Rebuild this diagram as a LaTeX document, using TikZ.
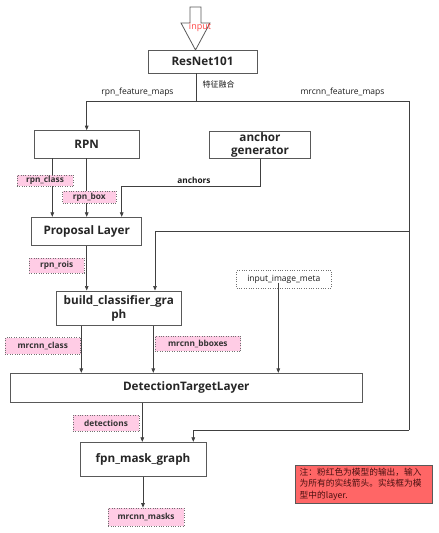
\documentclass[tikz,border=0pt]{standalone}
\usepackage{fontspec}
\setmainfont{Open Sans}
\newfontfamily\cjk{Noto Sans CJK SC}
\usetikzlibrary{arrows.meta,calc}
\definecolor{linec}{HTML}{404040}
\definecolor{boxc}{HTML}{595959}
\definecolor{dotc}{HTML}{707070}
\definecolor{pinkc}{HTML}{FFCCE5}
\definecolor{notec}{HTML}{FF6666}
\definecolor{notet}{HTML}{4A1010}
\definecolor{inred}{HTML}{FF4545}
\begin{document}
\begin{tikzpicture}[x=1pt,y=-1pt,
  layer/.style={draw=boxc, line width=0.9pt, fill=white, font=\fontsize{11.7}{13.5}\selectfont\bfseries, text=black!85, inner sep=0pt, align=center},
  outlbl/.style={draw=dotc, dotted, fill=pinkc, font=\fontsize{8.3}{9}\selectfont\bfseries, text=black!80, inner sep=0pt},
  inlbl/.style={draw=dotc, dotted, fill=white, font=\fontsize{8.5}{9}\selectfont, text=black!90, inner sep=0pt},
  lbl/.style={font=\fontsize{8.5}{9}\selectfont, text=black!90, inner sep=0pt},
  arr/.style={draw=linec, line width=0.7pt, -{Triangle[length=4.5pt,width=3.6pt]}},
  ln/.style={draw=linec, line width=0.7pt}]
\useasboundingbox (0,0) rectangle (439,533);

% input hollow arrow
\draw[boxc, line width=0.8pt, fill=white] (190,7) -- (201,7) -- (201,23) -- (210,23) -- (195.5,50) -- (181,23) -- (190,23) -- cycle;
\node[font=\fontsize{9}{10}\selectfont, text=inred, inner sep=0pt] (input) at (200,27) {input};

% layer boxes
\node[layer, minimum width=109pt, minimum height=23pt] (resnet) at (202.5,61.5) {ResNet101};
\node[layer, minimum width=105.3pt, minimum height=27.3pt] (rpn) at (86.7,144.3) {RPN};
\node[layer, minimum width=101.4pt, minimum height=27.3pt] (anchor) at (260,145) {anchor\\[-0.5pt]generator};
\node[layer, minimum width=110pt, minimum height=28pt] (proposal) at (86.7,231.3) {Proposal Layer};
\node[layer, minimum width=125.7pt, minimum height=34.7pt] (build) at (118.8,308.3) {build\_classifier\_gra\\ph};
\node[layer, minimum width=352.7pt, minimum height=28.7pt] (dtl) at (186.3,387.7) {DetectionTargetLayer};
\node[layer, minimum width=126pt, minimum height=34.4pt] (fpn) at (143,459.5) {fpn\_mask\_graph};

% junction coordinates
\coordinate (split) at (196.7,101);
\coordinate (rtop) at (409,101);
\coordinate (rmid) at (409,231.7);
\coordinate (rbot) at (409,430);
\coordinate (anc) at (121.7,186.7);

% connectors
\draw[ln] (split |- resnet.south) -- (split);
\draw[arr] (split) -| (rpn.north);
\draw[ln] (split) -- (rtop) -- (rbot);
\draw[arr] (rbot) -| ([xshift=50.3pt]fpn.north);
\draw[arr] (rmid) -| ([xshift=36.2pt]build.north);

\draw[arr] ([xshift=-34.4pt]rpn.south) -- ([xshift=-34.4pt]proposal.north);
\draw[arr] (rpn.south) -- (proposal.north);
\draw[arr] (anchor.south) |- (anc) -- (anc |- proposal.north);

\draw[arr] (proposal.south) -- (proposal.south |- build.north);

\node[inlbl, minimum width=94.3pt, minimum height=18.3pt] (meta) at (283.8,279) {input\_image\_meta};
\draw[arr] ([xshift=-5.5pt,yshift=5.7pt]meta.south) -- ([xshift=-5.5pt]meta.south |- dtl.north);

\draw[arr] ([xshift=-37.5pt]build.south) -- ([xshift=-37.5pt]build.south |- dtl.north);
\draw[arr] ([xshift=34.5pt]build.south) -- ([xshift=34.5pt]build.south |- dtl.north);

\draw[arr] ([xshift=-0.7pt]fpn.north |- dtl.south) -- ([xshift=-0.7pt]fpn.north);

\node[outlbl, minimum width=75.7pt, minimum height=18.3pt] (masks) at (146,517) {mrcnn\_masks};
\draw[arr] (fpn.south) -- (fpn.south |- masks.north);

% output labels
\node[outlbl, minimum width=56.6pt, minimum height=11pt] (rpnclass) at (45,180.5) {rpn\_class};
\node[outlbl, minimum width=53.3pt, minimum height=12.6pt] (rpnbox) at (89.3,197) {rpn\_box};
\node[outlbl, minimum width=55.3pt, minimum height=14.4pt] (rpnrois) at (56.7,265.5) {rpn\_rois};
\node[outlbl, minimum width=75.7pt, minimum height=16.3pt] (mclass) at (42.8,345.8) {mrcnn\_class};
\node[outlbl, minimum width=85.7pt, minimum height=15pt] (mbbox) at (197.8,343.5) {mrcnn\_bboxes};
\node[outlbl, minimum width=66.6pt, minimum height=16pt] (det) at (106,423) {detections};

% text labels
\node[lbl] (rfm) at (137.5,92.3) {rpn\_feature\_maps};
\node[lbl] (mfm) at (342.5,92.3) {mrcnn\_feature\_maps};
\node[lbl, font=\fontsize{8}{9}\selectfont\cjk, anchor=west] (fuse) at (202.5,84.5) {特征融合};
\node[lbl, font=\fontsize{8.3}{9}\selectfont\bfseries] (anchors) at (194,180.7) {anchors};

% note
\node[draw=boxc, line width=0.8pt, fill=notec, minimum width=136.6pt, minimum height=38.3pt, inner sep=0pt] (note) at (364,484.2) {};
\node[text=notet, font=\fontsize{8.7}{11.5}\selectfont\cjk, align=left, inner sep=0pt, anchor=west] (notetext) at (299.5,484.2) {注：粉红色为模型的输出，输入\\为所有的实线箭头。实线框为模\\型中的layer.};
\end{tikzpicture}
\end{document}
